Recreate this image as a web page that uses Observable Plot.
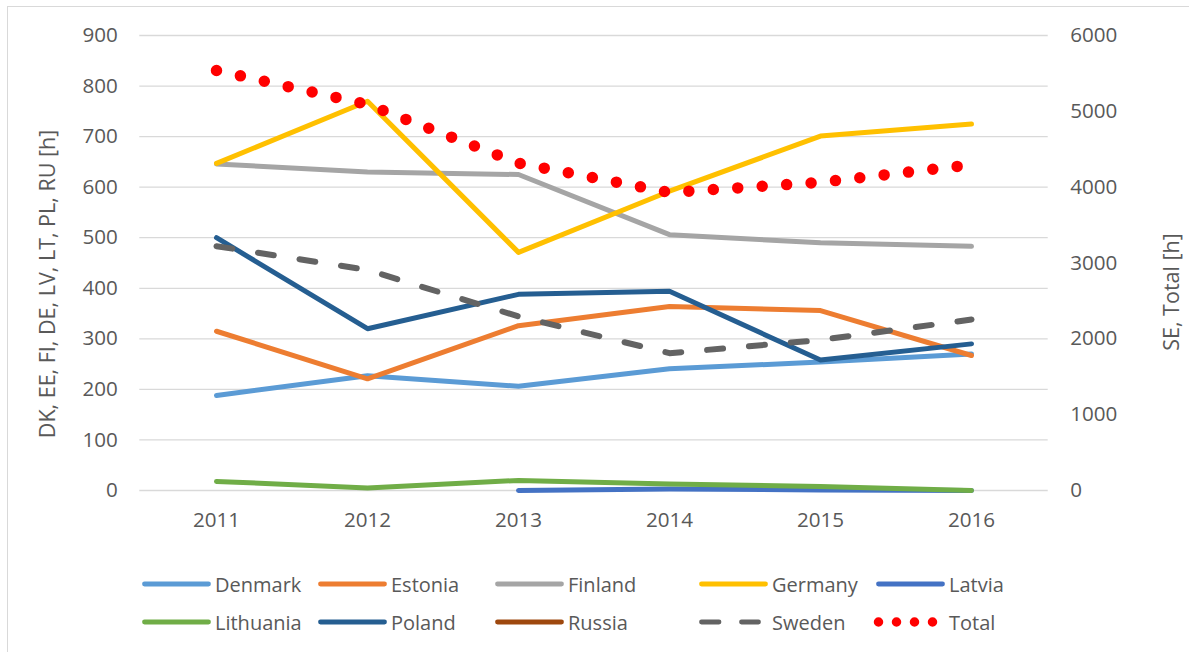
<!DOCTYPE html>
<html>
<head>
<meta charset="utf-8">
<script src="https://cdn.jsdelivr.net/npm/d3@7"></script>
<script src="https://cdn.jsdelivr.net/npm/@observablehq/plot@0.6"></script>
<style>
  html, body { margin: 0; padding: 0; background: #fff; overflow: hidden; width: 1189px; height: 652px; }
  #frame { position: absolute; left: 7px; top: 6px; width: 1200px; height: 660px; border: 1.5px solid #d9d9d9; box-sizing: border-box; }
  #chart { position: absolute; left: 0; top: 0; }
  .li { position: absolute; height: 30px; display: flex; align-items: center; font: 20px "Open Sans", sans-serif; color: #595959; white-space: nowrap; }
  .li svg { flex: none; }
</style>
</head>
<body>
<div id="frame"></div>
<div id="chart"></div>
<div id="legend"></div>
<script>
// ---- data ----
const years = ["2011", "2012", "2013", "2014", "2015", "2016"];
const denmark   = [188, 227, 206, 241, 254, 270];
const estonia   = [315, 221, 326, 364, 356, 267];
const finland   = [646, 630, 625, 506, 490, 483];
const germany   = [647, 770, 471, 592, 701, 725];
const latvia    = [null, null, 0, 3, 1, 0];
const lithuania = [18, 5, 20, 13, 8, 0];
const poland    = [500, 320, 388, 394, 258, 290];
const russia    = [null, null, null, null, null, null];
const sweden    = [3222, 2908, 2295, 1811, 1985, 2255];   // secondary axis
const total     = [5539, 5090, 4317, 3930, 4064, 4296];   // secondary axis

const leftTicks  = [0, 100, 200, 300, 400, 500, 600, 700, 800, 900];
const rightTicks = [0, 1000, 2000, 3000, 4000, 5000, 6000];
const leftTitle  = "DK, EE, FI, DE, LV, LT, PL, RU [h]";
const rightTitle = "SE, Total [h]";

const seriesNames  = ["Denmark", "Estonia", "Finland", "Germany", "Latvia", "Lithuania", "Poland", "Russia", "Sweden", "Total"];
const seriesValues = [denmark, estonia, finland, germany, latvia, lithuania, poland, russia, sweden, total];
const seriesColors = ["#5B9BD5", "#ED7D31", "#A5A5A5", "#FFC000", "#4472C4", "#70AD47", "#255E91", "#9E480E", "#636363", "#FF0000"];
const secondary    = [false, false, false, false, false, false, false, false, true, true];

const leftMax = 900, rightMax = 6000;
const k = leftMax / rightMax;

// ---- build rows ----
const series = seriesNames.map((name, i) => ({
  name,
  color: seriesColors[i],
  secondary: secondary[i],
  rows: years.map((year, j) => ({
    year,
    value: seriesValues[i][j] == null ? NaN : (secondary[i] ? seriesValues[i][j] * k : seriesValues[i][j])
  }))
}));

function lineStyle(name) {
  if (name === "Sweden") return {strokeWidth: 6, strokeDasharray: "16 26", strokeLinecap: "round"};
  if (name === "Total") return {strokeWidth: 11.5, strokeDasharray: "0 24.5", strokeLinecap: "round"};
  return {strokeWidth: 5, strokeLinecap: "round"};
}

const marks = [
  Plot.gridY(leftTicks, {stroke: "#d9d9d9", strokeOpacity: 1, strokeWidth: 1.3}),
  Plot.axisY(leftTicks, {anchor: "left", tickSize: 0, tickPadding: 22, label: null, fontSize: 20.6}),
  Plot.axisY(rightTicks.map(v => v * k), {anchor: "right", tickSize: 0, tickPadding: 22, label: null, fontSize: 20.6,
    tickFormat: d => String(Math.round(d / k))}),
  Plot.axisX({tickSize: 0, tickPadding: 22, label: null, fontSize: 20.6}),
  ...series.map(s => Plot.line(s.rows, {
    x: "year", y: "value", stroke: s.color, strokeLinejoin: "round", ...lineStyle(s.name)
  })),
  Plot.text([leftTitle], {frameAnchor: "left", dx: -92, dy: 21, rotate: -90, fontSize: 21.5, fill: "#595959", textAnchor: "middle", lineAnchor: "middle"}),
  Plot.text([rightTitle], {frameAnchor: "right", dx: 124, dy: 29, rotate: -90, fontSize: 21.5, fill: "#595959", textAnchor: "middle", lineAnchor: "middle"})
];

const chart = Plot.plot({
  width: 1189,
  height: 545,
  marginLeft: 139.3,
  marginRight: 141.3,
  marginTop: 35,
  marginBottom: 55,
  style: {fontFamily: "'Open Sans', sans-serif", fontSize: "20px", color: "#595959", background: "transparent", overflow: "visible"},
  x: {type: "point", domain: years, padding: 0.5},
  y: {domain: [0, leftMax]},
  marks
});
document.getElementById("chart").appendChild(chart);

// ---- legend ----
const legendCols = [142, 318, 495, 699, 876];
const legendRows = [584, 622];
const legend = document.getElementById("legend");
const ns = "http://www.w3.org/2000/svg";
series.forEach((s, i) => {
  const col = i % 5, row = Math.floor(i / 5);
  const item = document.createElement("div");
  item.className = "li";
  item.style.left = (legendCols[col] - 3) + "px";
  item.style.top = (legendRows[row] - 15) + "px";
  const svg = document.createElementNS(ns, "svg");
  svg.setAttribute("width", 76);
  svg.setAttribute("height", 30);
  const ln = document.createElementNS(ns, "line");
  ln.setAttribute("y1", 15); ln.setAttribute("y2", 15);
  ln.setAttribute("stroke", s.color);
  ln.setAttribute("stroke-linecap", "round");
  if (s.name === "Total") {
    ln.setAttribute("x1", 5.5); ln.setAttribute("x2", 60);
    ln.setAttribute("stroke-width", 9.5);
    ln.setAttribute("stroke-dasharray", "0 18");
  } else if (s.name === "Sweden") {
    ln.setAttribute("x1", 5.5); ln.setAttribute("x2", 62.5);
    ln.setAttribute("stroke-width", 4.8);
    ln.setAttribute("stroke-dasharray", "17.5 22.5");
  } else {
    ln.setAttribute("x1", 5.5); ln.setAttribute("x2", 69.5);
    ln.setAttribute("stroke-width", 4.8);
  }
  svg.appendChild(ln);
  item.appendChild(svg);
  const t = document.createElement("span");
  t.textContent = s.name;
  item.appendChild(t);
  legend.appendChild(item);
});
</script>
</body>
</html>
